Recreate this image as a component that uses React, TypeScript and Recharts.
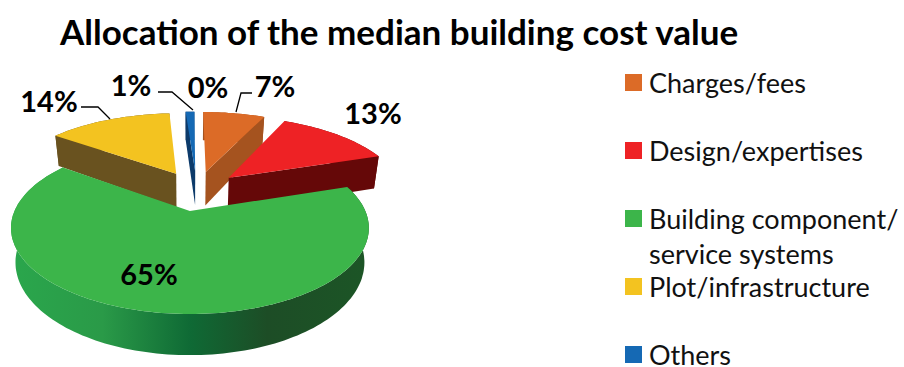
import React from "react";
import { PieChart, Pie, Legend } from "recharts";

const categories = ["Charges/fees", "Design/expertises", "Building component/ service systems", "Plot/infrastructure", "Others", "n/a"];
const shares = [7, 13, 65, 14, 1, 0];
const topColors = ["#dc6b27", "#ee2225", "#3cb54a", "#f3c320", "#1569b4", "#888888"];
const sideColors = ["#a5531f", "#650808", "url(#greenRim)", "#69521f", "#0c3a6a", "#888888"];

const tableData = categories.map((name, i) => ({ name, value: shares[i], fill: topColors[i], side: sideColors[i] }));

const FONT = "Lato, sans-serif";
const FRONT_SLICE = categories[2];

// perspective of the tilted disc
const TILT = 0.471;
const PERSPECTIVE = 0.198;
const EXPLODE = 0.265;
const FRONT_DEPTH = 33;
const BACK_DEPTH = 37;
const BOTTOM_SHRINK = 0.975;
const BACK_SCALE = 1.05;
const SHIFT = { u: 0.041, v: 0.262 };

// label text centres with their leader lines
const labelSpots: Record<number, { x: number; y: number; line?: string }> = {
  0: { x: 275, y: 85, line: "252,93 241,93 236,112" },
  1: { x: 373, y: 112 },
  2: { x: 149, y: 273 },
  3: { x: 49, y: 100, line: "81,107 98,107 110,119" },
  4: { x: 131, y: 84, line: "158,92 172,92 193,110" },
  5: { x: 208, y: 86 },
};

const rad = (d: number) => (d * Math.PI) / 180;

function SliceShape(props: any, wanted: boolean) {
  const { cx, cy, outerRadius, startAngle, endAngle, fill, name, payload } = props;
  if ((name === FRONT_SLICE) !== wanted || startAngle === endAngle) return <g />;

  const from = 90 - startAngle;
  const to = 90 - endAngle;
  const mid = rad((from + to) / 2);
  const ou = SHIFT.u + EXPLODE * Math.sin(mid);
  const ov = SHIFT.v + EXPLODE * Math.cos(mid);
  const reach = wanted ? 1 : BACK_SCALE;
  const depth = wanted ? FRONT_DEPTH : BACK_DEPTH;

  const top = (u: number, v: number) => {
    const w = 1 + PERSPECTIVE * v;
    return { x: cx + (outerRadius * u) / w, y: cy - (outerRadius * TILT * v) / w, w };
  };
  const drop = (p: { x: number; y: number; w: number }) => ({
    x: cx + (p.x - cx) * BOTTOM_SHRINK,
    y: p.y + depth / p.w,
    w: p.w,
  });

  const apex = top(ou, ov);
  const arc: { x: number; y: number; w: number }[] = [];
  const steps = Math.max(2, Math.ceil((to - from) / 1.5));
  for (let i = 0; i <= steps; i++) {
    const t = rad(from + ((to - from) * i) / steps);
    arc.push(top(ou + reach * Math.sin(t), ov + reach * Math.cos(t)));
  }
  const midArc = arc[Math.floor(steps / 2)];

  const toPath = (pts: { x: number; y: number }[]) =>
    "M" + pts.map((p) => `${p.x.toFixed(1)},${p.y.toFixed(1)}`).join("L") + "Z";

  // a cut face only shows when dropping its edge moves away from the slice
  const cutFace = (edge: { x: number; y: number; w: number }) => {
    const dx = edge.x - apex.x;
    const dy = edge.y - apex.y;
    if (Math.abs(dx) < 3) return null;
    const lineY = apex.y + (dy * (midArc.x - apex.x)) / dx;
    if (midArc.y > lineY) return null;
    return <path d={toPath([apex, edge, drop(edge), drop(apex)])} fill={payload.side} />;
  };

  return (
    <g>
      <defs>
        <linearGradient id="greenRim" gradientUnits="userSpaceOnUse" x1="15" x2="365" y1="0" y2="0">
          <stop offset="0" stopColor="#2aa64c" />
          <stop offset="0.25" stopColor="#2a9a48" />
          <stop offset="0.5" stopColor="#0f6a35" />
          <stop offset="0.72" stopColor="#1d4d26" />
          <stop offset="1" stopColor="#1c5526" />
        </linearGradient>
      </defs>
      <path d={toPath([...arc, ...arc.map(drop).reverse()])} fill={payload.side} />
      {cutFace(arc[0])}
      {cutFace(arc[arc.length - 1])}
      <path d={toPath([apex, ...arc])} fill={fill} />
    </g>
  );
}

function SliceLabel(props: any) {
  const spot = labelSpots[props.index];
  return (
    <g>
      {spot.line && <polyline points={spot.line} fill="none" stroke="#000" strokeWidth={1.3} />}
      <text x={spot.x} y={spot.y} textAnchor="middle" dominantBaseline="central" fontFamily={FONT} fontWeight={700} fontSize={29} fill="#000">
        {props.value}%
      </text>
    </g>
  );
}

function LegendRows({ payload }: any) {
  // both pies report their slices, keep one row per category in table order
  const seen = new Set<string>();
  const rows = (payload || []).filter((p: any) => {
    if (p.payload.value === 0 || seen.has(p.value)) return false;
    seen.add(p.value);
    return true;
  });
  rows.sort((a: any, b: any) => categories.indexOf(a.value) - categories.indexOf(b.value));
  return (
    <div style={{ position: "relative", fontFamily: FONT, fontSize: 27, color: "#111" }}>
      {rows.map((p: any, i: number) => {
        const wrapped = p.value.length > 25;
        return (
          <div key={p.value} style={{ position: "absolute", top: i * 68, left: 0, width: 279 }}>
            <span style={{ position: "absolute", left: 0, top: 9, width: 17, height: 17, background: p.color }} />
            <div style={{ marginLeft: 24, marginTop: wrapped ? 0 : 5, lineHeight: wrapped ? "35px" : "25px" }}>{p.value}</div>
          </div>
        );
      })}
    </div>
  );
}

export default function App() {
  return (
    <div style={{ position: "absolute", left: 0, top: 0, width: 904, height: 367, overflow: "hidden", background: "#fff" }}>
      <div style={{ position: "absolute", left: 60, top: 10, fontFamily: FONT, fontWeight: 700, fontSize: 35, lineHeight: "42px", color: "#000", whiteSpace: "nowrap" }}>
        Allocation of the median building cost value
      </div>
      <PieChart width={904} height={367} margin={{ top: 0, right: 0, bottom: 0, left: 0 }}>
        <Pie
          data={tableData}
          dataKey="value"
          nameKey="name"
          cx={190}
          cy={211}
          outerRadius={175.4}
          startAngle={90}
          endAngle={-270}
          stroke="none"
          isAnimationActive={false}
          shape={(p: any) => SliceShape(p, false)}
        />
        <Pie
          data={tableData}
          dataKey="value"
          nameKey="name"
          cx={190}
          cy={211}
          outerRadius={175.4}
          startAngle={90}
          endAngle={-270}
          stroke="none"
          legendType="none"
          isAnimationActive={false}
          shape={(p: any) => SliceShape(p, true)}
          label={SliceLabel}
          labelLine={false}
        />
        <Legend content={<LegendRows />} wrapperStyle={{ position: "absolute", left: 625, top: 65, width: 279, height: 300, bottom: "auto" }} />
      </PieChart>
    </div>
  );
}
